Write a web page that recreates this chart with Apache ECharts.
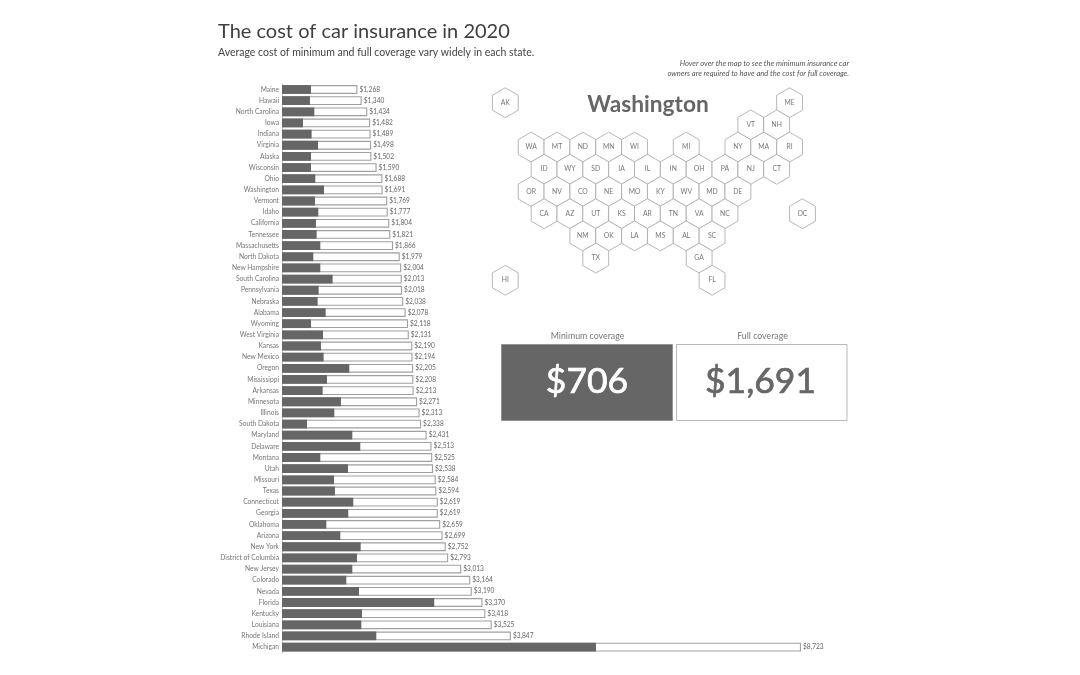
<!DOCTYPE html>
<html>
<head>
<meta charset="utf-8">
<title>The cost of car insurance in 2020</title>
<style>html,body{margin:0;padding:0;background:#fff}#chart{width:1080px;height:675px}</style>
<script src="https://cdn.jsdelivr.net/npm/echarts@6/dist/echarts.min.js"></script>
</head>
<body>
<div id="chart"></div>
<script>
const states = ["Maine","Hawaii","North Carolina","Iowa","Indiana","Virginia","Alaska","Wisconsin","Ohio","Washington","Vermont","Idaho","California","Tennessee","Massachusetts","North Dakota","New Hampshire","South Carolina","Pennsylvania","Nebraska","Alabama","Wyoming","West Virginia","Kansas","New Mexico","Oregon","Mississippi","Arkansas","Minnesota","Illinois","South Dakota","Maryland","Delaware","Montana","Utah","Missouri","Texas","Connecticut","Georgia","Oklahoma","Arizona","New York","District of Columbia","New Jersey","Colorado","Nevada","Florida","Kentucky","Louisiana","Rhode Island","Michigan"];
const stateCodes = ["ME","HI","NC","IA","IN","VA","AK","WI","OH","WA","VT","ID","CA","TN","MA","ND","NH","SC","PA","NE","AL","WY","WV","KS","NM","OR","MS","AR","MN","IL","SD","MD","DE","MT","UT","MO","TX","CT","GA","OK","AZ","NY","DC","NJ","CO","NV","FL","KY","LA","RI","MI"];
const fullCoverage = [1268,1340,1434,1482,1489,1498,1502,1590,1688,1691,1769,1777,1804,1821,1866,1979,2004,2013,2018,2038,2078,2118,2131,2190,2194,2205,2208,2213,2271,2313,2338,2431,2513,2525,2538,2584,2594,2619,2619,2659,2699,2752,2793,3013,3164,3190,3370,3418,3525,3847,8723];
const minCoverage = [487,470,543,353,498,605,487,487,560,706,554,610,571,582,644,526,644,851,616,599,734,487,689,655,700,1131,756,683,991,879,420,1182,1316,644,1109,874,890,1198,1114,745,980,1322,1260,1182,1081,1294,2559,1344,1333,1585,5277];
// hex tile map: [code, column in half-tiles, row]
const hexTiles = [["AK",0,0],["ME",22,0],["VT",19,1],["NH",21,1],
["WA",2,2],["MT",4,2],["ND",6,2],["MN",8,2],["WI",10,2],["MI",14,2],["NY",18,2],["MA",20,2],["RI",22,2],
["ID",3,3],["WY",5,3],["SD",7,3],["IA",9,3],["IL",11,3],["IN",13,3],["OH",15,3],["PA",17,3],["NJ",19,3],["CT",21,3],
["OR",2,4],["NV",4,4],["CO",6,4],["NE",8,4],["MO",10,4],["KY",12,4],["WV",14,4],["MD",16,4],["DE",18,4],
["CA",3,5],["AZ",5,5],["UT",7,5],["KS",9,5],["AR",11,5],["TN",13,5],["VA",15,5],["NC",17,5],["DC",23,5],
["NM",6,6],["OK",8,6],["LA",10,6],["MS",12,6],["AL",14,6],["SC",16,6],
["TX",7,7],["GA",15,7],["HI",0,8],["FL",16,8]];
const selectedState = "Washington";
const FONT = "Lato, 'Noto Sans', sans-serif";
const GREY = "#666666";
const fmt = v => "$" + v.toLocaleString("en-US");

function kpiGraphics(name) {
  const i = states.indexOf(name);
  return [
    {id:"selName",type:"text",x:648,y:104.5,style:{text:name,font:"700 22.7px "+FONT,fill:GREY,align:"center",verticalAlign:"middle"}},
    {id:"minVal",type:"text",z:5,x:587,y:382,style:{text:fmt(minCoverage[i]),font:"400 35.5px "+FONT,fill:"#fff",stroke:"#fff",lineWidth:0.7,align:"center",verticalAlign:"middle"}},
    {id:"fullVal",type:"text",z:5,x:760.5,y:382,style:{text:fmt(fullCoverage[i]),font:"400 35.5px "+FONT,fill:GREY,stroke:GREY,lineWidth:0.7,align:"center",verticalAlign:"middle"}}
  ];
}
const staticGraphics = [
  {type:"text",x:218,y:32,style:{text:"The cost of car insurance in 2020",font:"400 20px "+FONT,fill:"#3f3f3f",align:"left",verticalAlign:"middle"}},
  {type:"text",x:218,y:53,style:{text:"Average cost of minimum and full coverage vary widely in each state.",font:"400 10.5px "+FONT,fill:"#444",align:"left",verticalAlign:"middle"}},
  {type:"text",x:849,y:64,style:{text:"Hover over the map to see the minimum insurance car",font:"italic 400 7.6px "+FONT,fill:"#555",align:"right",verticalAlign:"middle"}},
  {type:"text",x:849,y:74,style:{text:"owners are required to have and the cost for full coverage.",font:"italic 400 7.6px "+FONT,fill:"#555",align:"right",verticalAlign:"middle"}},
  {type:"text",x:587.5,y:336,style:{text:"Minimum coverage",font:"400 8.8px "+FONT,fill:"#777",align:"center",verticalAlign:"middle"}},
  {type:"text",x:762.5,y:336,style:{text:"Full coverage",font:"400 8.8px "+FONT,fill:"#777",align:"center",verticalAlign:"middle"}},
  {type:"rect",z:1,shape:{x:501.5,y:344.5,width:171,height:76},style:{fill:GREY,stroke:"#8a8a8a",lineWidth:0.8}},
  {type:"rect",z:1,shape:{x:676.5,y:344.5,width:170.5,height:76},style:{fill:"#fff",stroke:"#a8a8a8",lineWidth:0.8}}
];

const chart = echarts.init(document.getElementById("chart"), null, {renderer:"canvas"});
chart.setOption({
  animation:false,
  backgroundColor:"#fff",
  textStyle:{fontFamily:FONT},
  grid:[
    {left:282,top:83.9,width:519,height:568.8,containLabel:false},
    {left:505.3,top:102.7,width:297.2,height:177.6}
  ],
  xAxis:[
    {gridIndex:0,type:"value",min:0,max:8723,show:false},
    {gridIndex:1,type:"value",min:0,max:23,show:false}
  ],
  yAxis:[
    {gridIndex:0,type:"category",data:states,inverse:true,
     axisTick:{show:false},axisLine:{show:true,lineStyle:{color:"#c4c4c4",width:1}},
     axisLabel:{interval:0,fontSize:6.7,color:"#777",margin:3,fontFamily:FONT}},
    {gridIndex:1,type:"value",min:0,max:8,inverse:true,show:false}
  ],
  series:[
    {type:"bar",name:"Full coverage",data:fullCoverage,barWidth:8.8,barGap:"-100%",z:2,
     itemStyle:{color:"#fff",borderColor:"#a0a0a0",borderWidth:1.1},
     label:{show:true,position:"right",distance:2,fontSize:6.6,color:"#666",fontFamily:FONT,formatter:p=>fmt(p.value)}},
    {type:"bar",name:"Minimum coverage",data:minCoverage,barWidth:8.8,barGap:"-100%",z:3,
     itemStyle:{color:GREY}},
    {type:"custom",name:"Map",coordinateSystem:"cartesian2d",xAxisIndex:1,yAxisIndex:1,z:4,
     data:hexTiles.map(t=>[t[1],t[2],t[0]]),
     encode:{x:0,y:1},
     renderItem:function(params,api){
       const c = api.coord([api.value(0),api.value(1)]);
       const hw = api.size([1,0])[0];          // half tile width
       const r = hw*2/Math.sqrt(3);
       const pts = [[0,-r],[hw,-r/2],[hw,r/2],[0,r],[-hw,r/2],[-hw,-r/2]].map(p=>[c[0]+p[0],c[1]+p[1]]);
       return {type:"group",children:[
         {type:"polygon",shape:{points:pts},style:{fill:"#fff",stroke:"#a4a4a4",lineWidth:0.8}},
         {type:"text",style:{x:c[0],y:c[1],text:api.value(2),font:"400 6.8px "+FONT,fill:"#777",align:"center",verticalAlign:"middle"}}
       ]};
     }}
  ],
  graphic:{elements:staticGraphics.concat(kpiGraphics(selectedState))}
});
chart.on("mouseover",{seriesIndex:2},function(p){
  const i = stateCodes.indexOf(p.data[2]);
  if(i>=0) chart.setOption({graphic:{elements:kpiGraphics(states[i])}});
});
</script>
</body>
</html>
